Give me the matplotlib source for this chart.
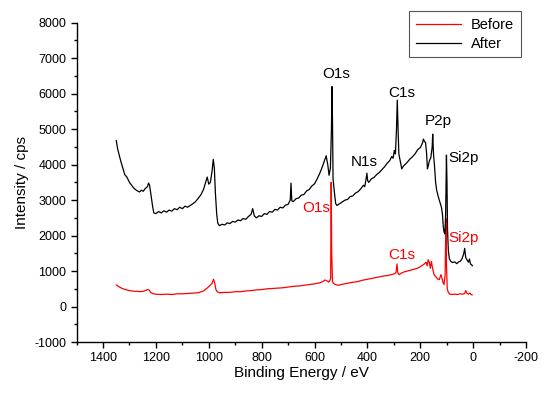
import matplotlib
matplotlib.use("Agg")
import matplotlib.pyplot as plt
from matplotlib.ticker import MultipleLocator

plt.rcParams['font.family'] = ['Liberation Sans', 'DejaVu Sans']
plt.rcParams['axes.unicode_minus'] = False

after_x = [1350, 1345, 1340, 1333, 1325, 1318, 1310, 1300, 1292, 1285, 1278, 1270, 1262, 1255, 1248,
           1240, 1232, 1228, 1224, 1218, 1212, 1208, 1200, 1190, 1180, 1170, 1160, 1150, 1140, 1130,
           1120, 1110, 1100, 1090, 1080, 1070, 1060, 1050, 1040, 1030, 1020, 1012, 1006, 1000, 994,
           988, 983, 979, 975, 970, 966, 960, 950, 940, 930, 920, 910, 900, 890, 880, 870, 860, 850,
           840, 834, 828, 820, 810, 800, 790, 780, 770, 760, 750, 740, 730, 720, 710, 700, 692, 689,
           686, 680, 670, 660, 650, 640, 630, 620, 610, 600, 590, 580, 570, 562, 556, 550, 545, 540,
           536, 534, 532, 530, 526, 520, 515, 505, 495, 485, 475, 465, 455, 445, 435, 425, 415, 410,
           405, 402, 399, 395, 385, 375, 365, 355, 345, 335, 325, 315, 308, 303, 298, 294, 290, 287,
           284, 281, 277, 270, 265, 258, 250, 240, 230, 220, 210, 200, 192, 188, 184, 180, 176, 173,
           170, 166, 160, 155, 153, 150, 146, 142, 138, 132, 126, 120, 116, 113, 110, 107, 104, 101,
           99, 97, 94, 90, 85, 78, 70, 62, 55, 48, 42, 36, 32, 28, 22, 18, 14, 10, 6, 3]
after_y = [4680, 4450, 4300, 4100, 3900, 3720, 3650, 3500, 3420, 3350, 3300, 3260, 3230, 3280, 3250,
           3330, 3380, 3480, 3420, 3100, 2800, 2640, 2620, 2680, 2640, 2700, 2660, 2720, 2690, 2760,
           2730, 2800, 2760, 2830, 2800, 2850, 2900, 2960, 3050, 3150, 3300, 3500, 3650, 3450, 3500,
           3800, 4150, 3900, 3200, 2600, 2350, 2280, 2320, 2300, 2360, 2340, 2400, 2380, 2440, 2420,
           2480, 2460, 2540, 2600, 2760, 2560, 2500, 2560, 2540, 2620, 2600, 2680, 2660, 2740, 2720,
           2800, 2780, 2860, 2880, 3000, 3480, 2980, 2960, 3040, 3060, 3140, 3160, 3260, 3300, 3400,
           3460, 3600, 3760, 3950, 4120, 4250, 4000, 3700, 3900, 5000, 6200, 5200, 3600, 3300, 2900,
           2850, 2900, 2950, 3000, 3020, 3100, 3120, 3200, 3240, 3320, 3420, 3380, 3600, 3760, 3550,
           3500, 3600, 3640, 3720, 3780, 3860, 3940, 4040, 4120, 4230, 4180, 4400, 4300, 5000, 5820,
           5000, 4300, 4150, 3880, 3950, 4000, 4060, 4150, 4220, 4300, 4420, 4480, 4600, 4720, 4650,
           4620, 4300, 3880, 3960, 4100, 4200, 4500, 4860, 4300, 3950, 3500, 3280, 3100, 2950, 2800,
           2600, 2250, 2100, 2050, 2600, 4270, 3500, 2200, 1600, 1350, 1280, 1240, 1260, 1210, 1260,
           1280, 1350, 1480, 1640, 1380, 1300, 1250, 1340, 1200, 1180, 1150]

before_x = [1350, 1340, 1330, 1320, 1310, 1300, 1290, 1280, 1270, 1260, 1250, 1240, 1232, 1226, 1220,
            1210, 1200, 1180, 1160, 1140, 1120, 1100, 1080, 1060, 1040, 1020, 1005, 995, 988, 982,
            978, 973, 968, 960, 940, 920, 900, 880, 860, 840, 820, 800, 780, 760, 740, 720, 700, 680,
            660, 640, 620, 600, 580, 570, 560, 552, 546, 541, 539, 537, 535, 532, 528, 520, 510, 500,
            480, 460, 440, 420, 400, 380, 360, 340, 320, 300, 292, 288, 285, 280, 270, 260, 240, 220,
            205, 195, 185, 178, 174, 170, 166, 162, 158, 154, 148, 142, 135, 128, 122, 118, 114, 110,
            106, 103, 101, 98, 94, 88, 80, 70, 60, 50, 40, 32, 28, 24, 18, 12, 8, 4]
before_y = [610, 560, 520, 490, 470, 450, 440, 430, 430, 420, 430, 450, 480, 470, 400,
            360, 350, 340, 350, 340, 360, 360, 370, 380, 390, 440, 530, 600, 650, 770,
            680, 480, 420, 390, 400, 400, 420, 420, 440, 450, 470, 480, 500, 510, 520, 530, 550, 570,
            580, 600, 620, 640, 670, 700, 750, 720, 690, 750, 800, 3500, 1500, 700, 650, 620, 600, 620,
            650, 680, 700, 740, 770, 800, 830, 860, 880, 920, 950, 1200, 950, 900, 950, 980, 1020, 1060,
            1100, 1150, 1200, 1250, 1150, 1320, 1250, 1080, 1270, 1100, 900, 850, 780, 760, 900, 800, 680, 620,
            900, 2480, 1200, 500, 400, 350, 340, 350, 340, 360, 350, 370, 450, 380, 350, 380, 340, 330]

after_labels = ["O1s", "C1s", "P2p", "Si2p", "N1s"]
after_label_x = [519, 269, 133, 35, 413]
after_label_y = [6554, 6032, 5229, 4200, 4073]
before_labels = ["O1s", "C1s", "Si2p"]
before_label_x = [592, 269, 35]
before_label_y = [2790, 1466, 1945]

fig = plt.figure(figsize=(5.5, 3.95), dpi=100)
ax = fig.add_axes([0.1393, 0.134, 0.8171, 0.8085])

ax.plot(before_x, before_y, color='#ff0000', lw=0.9, label='Before')
ax.plot(after_x, after_y, color='black', lw=0.9, label='After')

for t, x, y in zip(after_labels, after_label_x, after_label_y):
    ax.text(x, y, t, color='black', fontsize=11, ha='center', va='center')
for t, x, y in zip(before_labels, before_label_x, before_label_y):
    ax.text(x, y, t, color='#ff0000', fontsize=11, ha='center', va='center')

ax.set_xlim(1500, -200)
ax.set_ylim(-1000, 8000)
ax.xaxis.set_major_locator(MultipleLocator(200))
ax.xaxis.set_minor_locator(MultipleLocator(100))
ax.yaxis.set_major_locator(MultipleLocator(1000))
ax.yaxis.set_minor_locator(MultipleLocator(500))
ax.tick_params(which='major', direction='out', length=4, width=1, labelsize=9)
ax.tick_params(which='minor', direction='out', length=2, width=1)
for s in ['top', 'right']:
    ax.spines[s].set_visible(False)
for s in ['left', 'bottom']:
    ax.spines[s].set_linewidth(1)

ax.set_xlabel('Binding Energy / eV', fontsize=11, labelpad=1)
ax.set_ylabel('Intensity / cps', fontsize=11, labelpad=4)

leg = ax.legend(loc='upper right', bbox_to_anchor=(0.947, 0.972), bbox_transform=fig.transFigure,
                fontsize=10.5, fancybox=False, edgecolor='#555555', framealpha=1,
                handlelength=3.1, handletextpad=0.7, borderpad=0.45, labelspacing=0.35,
                borderaxespad=0)
leg.get_frame().set_linewidth(0.8)

fig.savefig('out.png', dpi=100)
